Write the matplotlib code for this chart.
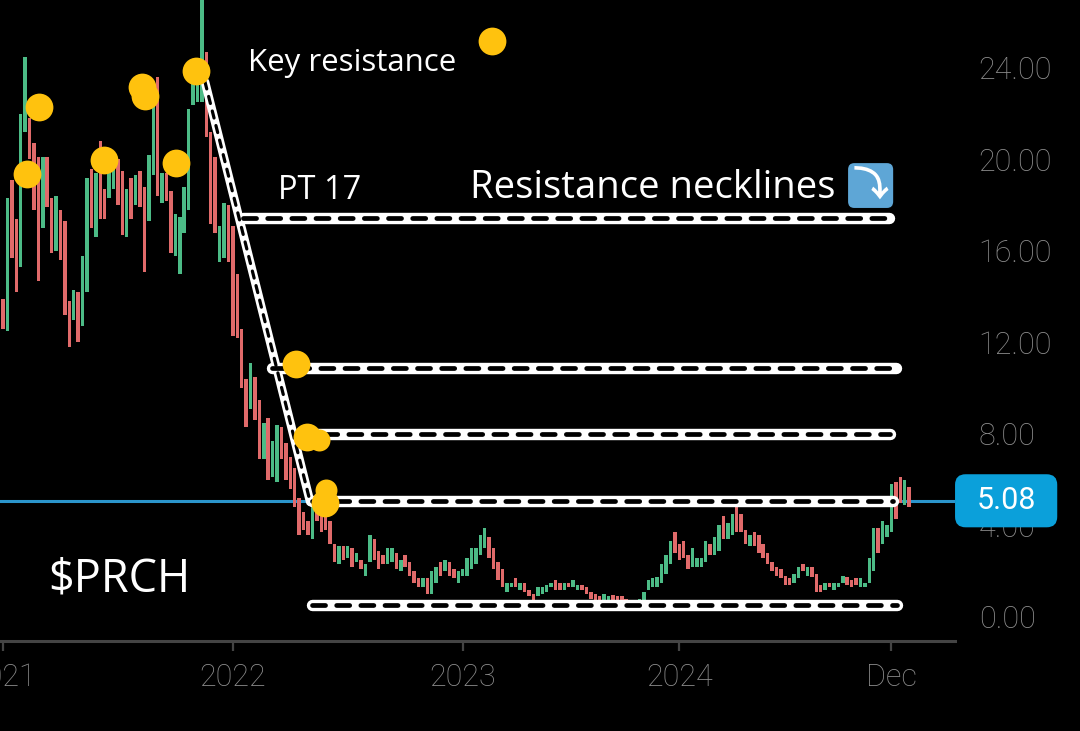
import numpy as np
import matplotlib
matplotlib.use('Agg')
import matplotlib.pyplot as plt
from matplotlib.patches import FancyBboxPatch
import matplotlib.transforms as mtransforms

plt.rcParams['font.family'] = ['Roboto', 'DejaVu Sans']
plt.rcParams['lines.scale_dashes'] = False

# weekly bars, first one is the last week of 2020
hi = [15.5, 13.9, 18.3, 19.1, 17.4, 22.0, 24.5, 21.8, 20.7, 20.1,
      20.1, 20.1, 18.3, 18.4, 17.8, 17.3, 13.8, 14.3, 14.2, 15.8,
      19.2, 19.6, 19.4, 20.8, 18.7, 19.5, 19.8, 20.0, 19.5, 18.7,
      19.2, 19.3, 19.5, 18.8, 20.2, 22.8, 23.6, 19.4, 19.4, 18.6,
      17.6, 17.5, 18.8, 22.2, 23.3, 23.3, 27.5, 24.7, 21.2, 20.1,
      17.1, 18.1, 18.0, 17.1, 15.0, 12.6, 10.4, 11.1, 10.5, 9.5,
      8.5, 8.7, 7.7, 8.4, 8.3, 7.6, 7.0, 6.5, 5.2, 4.6,
      4.2, 4.8, 4.6, 4.5, 4.5, 4.2, 3.2, 3.1, 3.1, 3.1,
      3.0, 2.8, 2.5, 2.3, 3.6, 3.4, 2.9, 2.7, 3.0, 3.0,
      2.8, 2.5, 2.7, 2.4, 2.0, 1.7, 1.7, 1.7, 2.0, 2.2,
      2.4, 2.5, 2.4, 2.1, 2.0, 2.1, 2.6, 3.0, 3.0, 3.6,
      3.9, 3.5, 3.0, 2.4, 2.1, 1.5, 1.5, 1.7, 1.5, 1.5,
      1.2, 1.0, 1.3, 1.3, 1.4, 1.5, 1.6, 1.5, 1.5, 1.5,
      1.6, 1.4, 1.4, 1.3, 1.1, 1.0, 0.9, 1.0, 0.9, 0.95,
      0.9, 0.9, 0.8, 0.75, 0.75, 0.8, 1.1, 1.6, 1.7, 1.75,
      2.3, 2.7, 3.3, 3.7, 3.2, 3.3, 2.7, 3.0, 2.6, 2.6,
      3.3, 3.2, 3.5, 4.0, 4.4, 4.1, 4.5, 4.8, 4.5, 3.8,
      3.6, 3.7, 3.6, 3.2, 2.8, 2.4, 2.2, 2.1, 1.8, 1.7,
      1.9, 2.2, 2.3, 2.2, 2.2, 1.9, 1.4, 1.5, 1.5, 1.5,
      1.5, 1.8, 1.75, 1.6, 1.7, 1.7, 1.5, 2.6, 3.9, 3.9,
      4.2, 4.0, 5.8, 5.9, 6.1, 6.0, 5.7]
lo = [13.0, 12.6, 12.5, 15.7, 14.2, 15.3, 21.2, 20.0, 17.8, 14.7,
      17.0, 17.9, 15.9, 16.0, 15.6, 13.2, 11.8, 13.0, 12.0, 12.7,
      14.2, 17.0, 16.6, 17.4, 17.4, 18.3, 18.7, 18.0, 16.7, 16.6,
      17.4, 18.0, 17.9, 15.1, 17.3, 19.3, 18.4, 18.1, 18.2, 15.9,
      15.8, 15.0, 16.8, 17.8, 22.4, 22.5, 22.5, 21.0, 17.2, 16.8,
      15.5, 15.7, 15.5, 12.3, 12.2, 10.0, 8.3, 9.1, 8.6, 6.9,
      6.9, 6.0, 6.1, 5.9, 6.9, 6.0, 5.6, 4.8, 3.6, 3.8,
      3.6, 3.4, 4.2, 3.7, 3.8, 3.2, 2.4, 2.3, 2.5, 2.6,
      2.2, 2.4, 2.1, 1.8, 2.4, 2.5, 2.1, 2.3, 2.3, 2.4,
      2.1, 2.0, 2.2, 1.8, 1.5, 1.3, 1.3, 1.0, 1.0, 1.5,
      1.8, 2.0, 1.8, 1.7, 1.5, 1.8, 1.8, 2.1, 2.3, 2.7,
      3.0, 2.6, 2.1, 1.6, 1.3, 1.1, 1.3, 1.3, 1.2, 1.1,
      0.9, 0.7, 0.9, 1.0, 1.1, 1.3, 1.2, 1.2, 1.2, 1.3,
      1.3, 1.2, 1.2, 1.0, 0.8, 0.7, 0.7, 0.7, 0.7, 0.7,
      0.65, 0.65, 0.6, 0.55, 0.55, 0.55, 0.65, 1.2, 1.3, 1.3,
      1.5, 1.9, 2.3, 2.8, 2.5, 2.6, 2.1, 2.2, 2.2, 2.2,
      2.4, 2.7, 2.7, 2.9, 3.4, 3.4, 3.6, 3.7, 3.7, 3.2,
      3.1, 3.1, 2.8, 2.6, 2.3, 2.0, 1.8, 1.7, 1.4, 1.4,
      1.5, 1.7, 2.0, 1.8, 1.75, 1.1, 1.1, 1.2, 1.3, 1.2,
      1.3, 1.5, 1.4, 1.3, 1.4, 1.3, 1.3, 1.5, 2.0, 2.8,
      3.2, 3.5, 3.7, 4.3, 5.0, 4.9, 4.8]
up = [0, 0, 1, 0, 0, 1, 1, 0, 0, 0,
      1, 0, 0, 1, 0, 0, 0, 1, 0, 1,
      1, 0, 1, 0, 0, 1, 1, 0, 0, 1,
      0, 1, 0, 0, 1, 1, 0, 1, 0, 0,
      1, 1, 1, 1, 1, 1, 1, 0, 0, 0,
      1, 1, 0, 0, 0, 0, 0, 1, 0, 0,
      1, 0, 1, 1, 0, 0, 0, 0, 0, 0,
      0, 1, 0, 0, 0, 0, 0, 1, 0, 1,
      0, 1, 0, 1, 1, 0, 0, 0, 1, 1,
      0, 1, 0, 0, 0, 0, 1, 0, 1, 1,
      0, 1, 0, 0, 1, 1, 1, 1, 1, 1,
      1, 0, 0, 0, 0, 1, 1, 0, 1, 0,
      0, 0, 1, 1, 1, 1, 0, 0, 1, 0,
      1, 1, 0, 0, 0, 0, 0, 1, 1, 0,
      0, 0, 0, 0, 1, 1, 1, 1, 1, 1,
      1, 1, 1, 0, 0, 0, 0, 1, 1, 1,
      1, 0, 1, 1, 0, 1, 1, 0, 0, 0,
      1, 0, 0, 0, 0, 0, 0, 0, 0, 0,
      1, 1, 0, 1, 0, 0, 0, 1, 0, 1,
      1, 1, 0, 0, 0, 1, 1, 1, 1, 0,
      1, 1, 1, 0, 0, 1, 0]
weeks = np.arange(-1, len(hi) - 1)

last_price = 5.08
year_ticks = [0, 52, 104, 153, 201]
year_labels = ['2021', '2022', '2023', '2024', 'Dec']
price_ticks = [0, 4, 8, 12, 16, 20, 24]

# drawn levels: (price, start week, end week)
necklines = [(17.44, 54.3, 200.5), (10.89, 60.9, 202.0), (8.0, 67.2, 200.7),
             (5.07, 69.9, 201.4), (0.52, 69.9, 202.3)]
trend_x = [45.7, 69.5]
trend_y = [23.39, 5.03]

# yellow markers
dot_x = [5.4, 8.1, 22.9, 31.4, 32.1, 39.1, 43.7, 110.6, 66.2, 68.8, 72.9]
dot_y = [19.37, 22.30, 19.98, 23.17, 22.78, 19.85, 23.87, 25.18, 11.05, 7.87, 4.98]
blob_x = [71.6, 73.0]
blob_y = [7.74, 5.55]

green = '#4cbb86'
red = '#e06a6a'
bg = 'black'
sans = ['Open Sans', 'DejaVu Sans']

fig = plt.figure(figsize=(10.8, 7.31), dpi=100, facecolor=bg)
ax = fig.add_axes([0, 0.1231, 0.8843, 0.8769], facecolor=bg)
ax.set_xlim(-0.68, 215.4)
ax.set_ylim(-1.05, 26.97)

cols = [green if u else red for u in up]
ax.bar(weeks, np.array(hi) - np.array(lo), bottom=lo, width=0.78, color=cols, zorder=2)

ax.axhline(last_price, color='#2b95cc', lw=2.2, zorder=1)

def chain(xs, ys, wide, thin, on, off):
    ax.plot(xs, ys, color='white', lw=wide, solid_capstyle='round', zorder=3)
    ax.plot(xs, ys, color='black', lw=thin, dashes=(on, off),
            dash_capstyle='round', zorder=4)

for lvl, x0, x1 in necklines:
    chain([x0, x1], [lvl, lvl], 8.2, 3.4, 9.4, 8.0)
chain(trend_x, trend_y, 6.2, 2.3, 5.2, 5.6)

ax.scatter(dot_x, dot_y, s=400, color='#ffc20e', zorder=6, linewidths=0)
ax.scatter(blob_x, blob_y, s=250, color='#ffc20e', zorder=6, linewidths=0)

# annotations
ax.text(55.4, 24.2, 'Key resistance', color='white', fontsize=22.5,
        family=sans, va='center', ha='left', zorder=7)
ax.text(62.2, 18.65, 'PT 17', color='white', fontsize=23.5,
        family=sans, va='center', ha='left', zorder=7)
ax.text(105.7, 18.75, 'Resistance necklines', color='white', fontsize=27.5,
        family=sans, va='center', ha='left', zorder=7)
ax.text(10.2, 1.65, '$PRCH', color='white', fontsize=32.5,
        family=sans, va='center', ha='left', zorder=7)

# emoji-like arrow box
ax.add_patch(FancyBboxPatch((196.3 - 5.1, 18.86 - 0.98), 10.2, 1.96,
                            boxstyle='round,pad=0,rounding_size=1.4',
                            mutation_aspect=0.2, fc='#5ea6d6', ec='none', zorder=7))
ax.text(196.3, 18.86, '\u2935', color='white', fontsize=26, fontweight='bold',
        family=['Noto Sans CJK JP', 'Noto Sans', 'DejaVu Sans', 'Liberation Sans'],
        ha='center', va='center', zorder=8)

# last price label
trans = mtransforms.blended_transform_factory(ax.transAxes, ax.transData)
ax.add_patch(FancyBboxPatch((1.0, last_price - 1.16), 0.107, 2.32,
                            boxstyle='round,pad=0,rounding_size=0.011',
                            mutation_aspect=41.7, transform=trans,
                            fc='#0ba0da', ec='none', clip_on=False, zorder=9))
ax.text(1.0535, last_price, '5.08', transform=trans, color='white', fontsize=22,
        ha='center', va='center', clip_on=False, zorder=10)

# axes styling
for s in ['top', 'left', 'right']:
    ax.spines[s].set_visible(False)
ax.spines['bottom'].set_color('#444444')
ax.spines['bottom'].set_linewidth(2.2)
ax.set_xticks(year_ticks)
ax.set_xticklabels(year_labels)
ax.tick_params(axis='x', colors='#444444', length=7, width=1.6, pad=9,
               labelsize=22, labelcolor='#8e8e8e')
ax.yaxis.tick_right()
ax.set_yticks(price_ticks)
ax.set_yticklabels([f'{v:.2f}' for v in price_ticks])
ax.tick_params(axis='y', length=0, pad=17, labelsize=22, labelcolor='#8e8e8e')
for lab in ax.get_xticklabels() + ax.get_yticklabels():
    lab.set_fontweight('light')

fig.savefig('out.png', dpi=100, facecolor=bg)
